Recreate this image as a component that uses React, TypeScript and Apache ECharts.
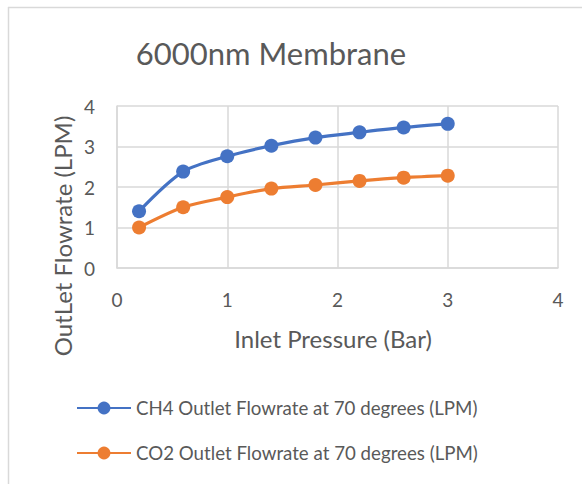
import React, { useEffect, useRef } from "react";
import * as echarts from "echarts";

const pressures = [0.2, 0.6, 1.0, 1.4, 1.8, 2.2, 2.6, 3.0];
const ch4Flow = [1.4, 2.38, 2.76, 3.02, 3.22, 3.35, 3.47, 3.56];
const co2Flow = [1.0, 1.5, 1.75, 1.96, 2.05, 2.15, 2.23, 2.28];
const seriesNames = [
  "CH4 Outlet Flowrate at 70 degrees (LPM)",
  "CO2 Outlet Flowrate at 70 degrees (LPM)",
];
const seriesColors = ["#4472C4", "#ED7D31"];
const titleText = "6000nm Membrane";
const xAxisTitle = "Inlet Pressure (Bar)";
const yAxisTitle = "OutLet Flowrate (LPM)";

const FONT = "Lato, 'Open Sans', sans-serif";
const TEXT = "#595959";
const GRID = "#D9D9D9";

export default function App() {
  const ref = useRef<HTMLDivElement>(null);
  useEffect(() => {
    if (!ref.current) return;
    const chart = echarts.init(ref.current, undefined, { renderer: "svg" });
    const seriesData = [ch4Flow, co2Flow];
    chart.setOption({
      animation: false,
      backgroundColor: "#ffffff",
      title: {
        text: titleText,
        left: 266,
        top: 32,
        textAlign: "center",
        textStyle: { fontFamily: FONT, fontSize: 31, fontWeight: "normal", color: TEXT },
      },
      grid: { left: 117, right: 24, top: 106, bottom: 216, containLabel: false },
      xAxis: {
        type: "value",
        min: 0,
        max: 4,
        interval: 1,
        axisLine: { show: true, lineStyle: { color: GRID, width: 1.5 } },
        axisTick: { show: false },
        splitLine: { show: true, lineStyle: { color: GRID, width: 1.5 } },
        axisLabel: { fontFamily: FONT, fontSize: 19, color: TEXT, margin: 22 },
      },
      yAxis: {
        type: "value",
        min: 0,
        max: 4,
        interval: 1,
        axisLine: { show: true, lineStyle: { color: GRID, width: 1.5 } },
        axisTick: { show: false },
        splitLine: { show: true, lineStyle: { color: GRID, width: 1.5 } },
        axisLabel: { fontFamily: FONT, fontSize: 19, color: TEXT, margin: 22 },
      },
      legend: {
        orient: "vertical",
        left: 76,
        top: 398,
        padding: 0,
        itemWidth: 54,
        itemHeight: 16,
        itemGap: 25,
        textStyle: { fontFamily: FONT, fontSize: 18.7, color: TEXT, lineHeight: 20, padding: [0, 0, 0, 0] },
        data: seriesNames,
      },
      graphic: [
        {
          type: "line",
          shape: { x1: 8, y1: 7.5, x2: 582, y2: 7.5 },
          style: { stroke: GRID, lineWidth: 1.5 },
        },
        {
          type: "line",
          shape: { x1: 8.5, y1: 7, x2: 8.5, y2: 484 },
          style: { stroke: GRID, lineWidth: 1.5 },
        },
        {
          type: "text",
          x: 62,
          y: 236,
          rotation: Math.PI / 2,
          style: {
            text: yAxisTitle,
            align: "center",
            verticalAlign: "middle",
            fontFamily: FONT,
            fontSize: 24,
            fill: TEXT,
          },
        },
        {
          type: "text",
          x: 333,
          y: 338,
          style: {
            text: xAxisTitle,
            align: "center",
            verticalAlign: "middle",
            fontFamily: FONT,
            fontSize: 24,
            fill: TEXT,
          },
        },
      ],
      series: seriesNames.map((name, i) => ({
        name,
        type: "line",
        smooth: 0.3,
        symbol: "circle",
        symbolSize: 14,
        color: seriesColors[i],
        lineStyle: { width: 3.2, color: seriesColors[i] },
        itemStyle: { color: seriesColors[i] },
        data: pressures.map((p, j) => [p, seriesData[i][j]]),
      })),
    });
    return () => chart.dispose();
  }, []);
  return (
    <div
      ref={ref}
      style={{ position: "fixed", left: 0, top: 0, width: 582, height: 484 }}
    />
  );
}
